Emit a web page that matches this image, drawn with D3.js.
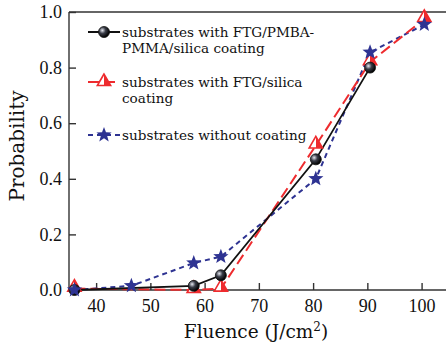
<!DOCTYPE html>
<html>
<head>
<meta charset="utf-8">
<script src="https://cdn.jsdelivr.net/npm/d3@7"></script>
<style>
  body{margin:0;background:#fff;}
  svg{display:block;}
</style>
</head>
<body>
<svg id="chart" width="446" height="345"></svg>
<script>
// fluence vs damage probability, three substrate types

const fluenceBlack = [36, 58, 63, 80.5, 90.5];
const probBlack    = [0.0, 0.015, 0.053, 0.47, 0.80];

const fluenceRed = [36, 58, 63, 80.5, 90.5, 100.5];
const probRed    = [0.005, 0.0, 0.005, 0.52, 0.82, 0.975];

const fluenceBlue = [36, 46.5, 58, 63, 80.5, 90.5, 100.5];
const probBlue    = [0.0, 0.015, 0.097, 0.12, 0.40, 0.855, 0.955];

const xTicks = [40, 50, 60, 70, 80, 90, 100];
const yTicks = [0.0, 0.2, 0.4, 0.6, 0.8, 1.0];

const legendLabels = [
  ["substrates with FTG/PMBA-", "PMMA/silica coating"],
  ["substrates with FTG/silica", "coating"],
  ["substrates without coating"]
];

const FONT = "'DejaVu Serif', 'Liberation Serif', serif";
const TFONT = "'Liberation Serif', 'DejaVu Serif', serif";
const RED = "#ee2b2e", BLUE = "#2e3392", BLACK = "#111";

const svg = d3.select("#chart");
const M = {l:69, t:12, r:446, b:290};

const x = d3.scaleLinear().domain([35, 104.5]).range([M.l, M.r]);
const y = d3.scaleLinear().domain([0, 1]).range([M.b, M.t]);

const defs = svg.append("defs");
const rg = defs.append("radialGradient").attr("id","ball").attr("cx","35%").attr("cy","35%").attr("r","65%");
rg.append("stop").attr("offset","0%").attr("stop-color","#e6e8f0");
rg.append("stop").attr("offset","45%").attr("stop-color","#3a3d48");
rg.append("stop").attr("offset","100%").attr("stop-color","#000");
const lg = defs.append("linearGradient").attr("id","tri").attr("x1","0").attr("x2","1").attr("y1","0").attr("y2","0");
lg.append("stop").attr("offset","50%").attr("stop-color","#fff");
lg.append("stop").attr("offset","50%").attr("stop-color",RED);

// frame: left, bottom, top
svg.append("line").attr("x1",M.l).attr("x2",M.r).attr("y1",M.t).attr("y2",M.t)
  .attr("stroke","#333").attr("stroke-width",1.4);

svg.append("g").attr("transform",`translate(0,${M.b})`)
  .call(d3.axisBottom(x).tickValues(xTicks).tickSize(-7).tickPadding(9).tickFormat(d3.format("d")))
  .call(a=>a.select(".domain").attr("stroke","#333").attr("stroke-width",1.4).attr("d",`M${M.l},0H${M.r}`))
  .call(a=>a.selectAll("line").attr("stroke","#333").attr("stroke-width",1.4))
  .call(a=>a.selectAll("text").attr("fill","#111").style("font-size","18px").style("font-family",TFONT));

svg.append("g").attr("transform",`translate(${M.l},0)`)
  .call(d3.axisLeft(y).tickValues(yTicks).tickSize(-7).tickPadding(7).tickFormat(d3.format(".1f")))
  .call(a=>a.select(".domain").attr("stroke","#333").attr("stroke-width",1.4).attr("d",`M0,${M.b}V${M.t}`))
  .call(a=>a.selectAll("line").attr("stroke","#333").attr("stroke-width",1.4))
  .call(a=>a.selectAll("text").attr("fill","#111").style("font-size","18px").style("font-family",TFONT));

// axis titles
svg.append("text").attr("x",256).attr("y",338).attr("text-anchor","middle")
  .attr("fill","#111").style("font-size","18.5px").style("font-family",FONT)
  .html("Fluence (J/cm<tspan dy='-7' font-size='12px'>2</tspan><tspan dy='7'>)</tspan>");
svg.append("text").attr("transform","translate(24,146) rotate(-90)").attr("text-anchor","middle")
  .attr("fill","#111").style("font-size","20px").style("font-family",FONT).text("Probability");

const line = d3.line().x(d=>x(d[0])).y(d=>y(d[1]));
const pts = (xs,ys)=>xs.map((v,i)=>[v,ys[i]]);
const black = pts(fluenceBlack, probBlack);
const red = pts(fluenceRed, probRed);
const blue = pts(fluenceBlue, probBlue);

function star(g, cx, cy, R){
  const p = d3.range(10).map(i=>{
    const a = -Math.PI/2 + i*Math.PI/5, r = i%2 ? R*0.42 : R;
    return [cx + r*Math.cos(a), cy + r*Math.sin(a)];
  });
  g.append("polygon").attr("points",p.map(q=>q.join(",")).join(" ")).attr("fill",BLUE);
}
function tri(g, cx, cy, s){
  g.append("polygon").attr("points",`${cx},${cy-s} ${cx-s*0.95},${cy+s*0.65} ${cx+s*0.95},${cy+s*0.65}`)
    .attr("fill","url(#tri)").attr("stroke",RED).attr("stroke-width",1.6);
}
function ball(g, cx, cy, r){
  g.append("circle").attr("cx",cx).attr("cy",cy).attr("r",r)
    .attr("fill","url(#ball)").attr("stroke","#111").attr("stroke-width",0.8);
}

const plot = svg.append("g");
plot.append("path").attr("d",line(blue)).attr("fill","none").attr("stroke",BLUE)
  .attr("stroke-width",2).attr("stroke-dasharray","5,4");
plot.append("path").attr("d",line(red)).attr("fill","none").attr("stroke",RED)
  .attr("stroke-width",2).attr("stroke-dasharray","11,5");
plot.append("path").attr("d",line(black)).attr("fill","none").attr("stroke",BLACK).attr("stroke-width",1.8);

red.forEach(d=>tri(plot, x(d[0]), y(d[1])-2, 7));
black.forEach(d=>ball(plot, x(d[0]), y(d[1]), 5.5));
blue.forEach(d=>star(plot, x(d[0]), y(d[1]), 8));

// legend
const leg = svg.append("g");
const rows = [
  {y:32, dash:null, col:BLACK, mk:(g,cx,cy)=>ball(g,cx,cy,5.5)},
  {y:82, dash:"11,5", col:RED, mk:(g,cx,cy)=>tri(g,cx,cy-1,7)},
  {y:135, dash:"5,4", col:BLUE, mk:(g,cx,cy)=>star(g,cx,cy,8)}
];
rows.forEach((r,i)=>{
  leg.append("line").attr("x1",88).attr("x2",120).attr("y1",r.y).attr("y2",r.y)
    .attr("stroke",r.col).attr("stroke-width",2).attr("stroke-dasharray",r.dash);
  r.mk(leg,104,r.y);
  legendLabels[i].forEach((t,j)=>{
    leg.append("text").attr("x",122).attr("y",r.y+5+j*16)
      .attr("fill","#111").style("font-size","13.6px").style("font-family",FONT).text(t);
  });
});
</script>
</body>
</html>
